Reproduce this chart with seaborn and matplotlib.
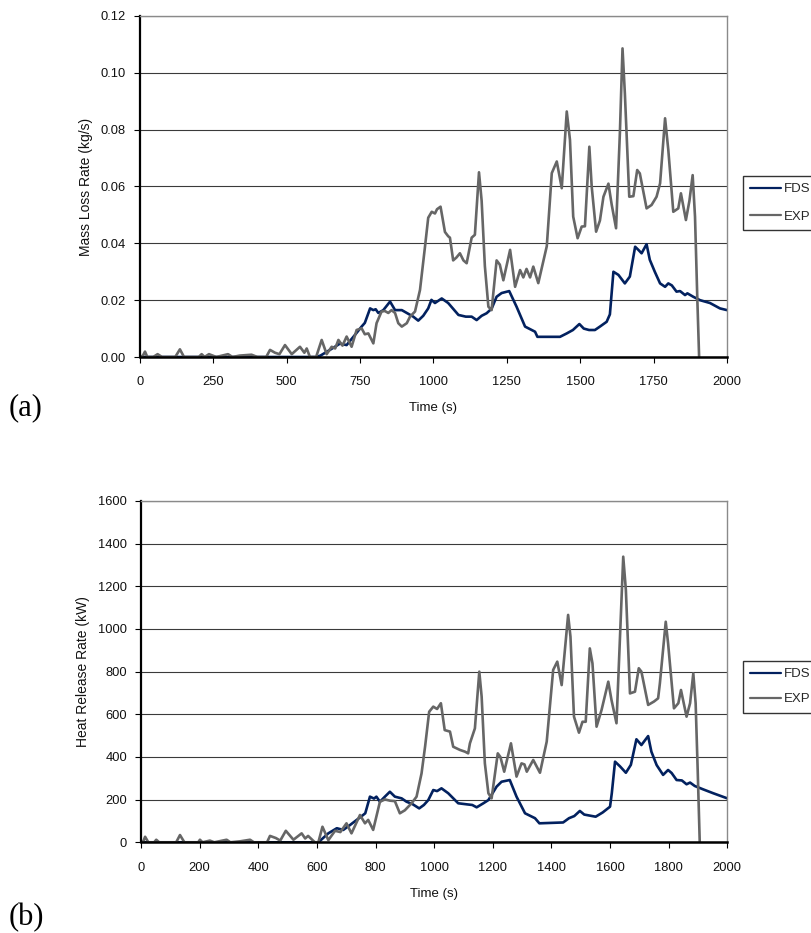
import matplotlib
matplotlib.use("Agg")
import matplotlib.pyplot as plt
import matplotlib.ticker as mticker
import seaborn as sns
import pandas as pd

# ---- (a) mass loss rate, kg/s ----
mlr_exp_time = [0, 10, 17, 25, 45, 60, 75, 120, 136, 150, 200, 210, 220, 235, 260, 300, 315,
                340, 380, 400, 430, 443, 460, 475, 494, 517, 545, 560, 568, 579, 600, 619,
                636, 653, 665, 676, 690, 704, 721, 738, 755, 766, 778, 795, 806, 823, 834,
                846, 857, 869, 880, 892, 909, 920, 937, 954, 971, 982, 994, 1005, 1012, 1024,
                1039, 1050, 1056, 1067, 1078, 1090, 1102, 1113, 1130, 1141, 1155, 1164, 1175,
                1187, 1198, 1215, 1226, 1238, 1261, 1278, 1295, 1306, 1317, 1329, 1340, 1357,
                1386, 1403, 1420, 1437, 1454, 1465, 1476, 1491, 1505, 1516, 1531, 1539, 1554,
                1567, 1579, 1596, 1607, 1622, 1635, 1644, 1652, 1667, 1681, 1694, 1703, 1726,
                1743, 1760, 1772, 1789, 1800, 1817, 1834, 1843, 1860, 1872, 1883, 1891, 1899,
                1905]
mlr_exp = [0, 0.0005, 0.0019, 0, 0, 0.001, 0, 0, 0.0027, 0, 0, 0.001, 0, 0.001, 0, 0.001, 0,
           0.0005, 0.0008, 0, 0, 0.0025, 0.0015, 0.001, 0.0042, 0.001, 0.0036, 0.0015, 0.003,
           0, 0, 0.006, 0.001, 0.0036, 0.003, 0.006, 0.004, 0.0072, 0.0036, 0.0095, 0.0101,
           0.008, 0.0083, 0.0048, 0.0119, 0.016, 0.0162, 0.0155, 0.0165, 0.0155, 0.0119,
           0.0107, 0.0119, 0.0142, 0.016, 0.0236, 0.0388, 0.049, 0.0511, 0.0505, 0.052,
           0.0529, 0.044, 0.0425, 0.042, 0.034, 0.035, 0.0365, 0.034, 0.033, 0.042, 0.043,
           0.065, 0.055, 0.032, 0.0177, 0.0165, 0.034, 0.0325, 0.027, 0.0377, 0.0247, 0.0306,
           0.028, 0.031, 0.028, 0.0318, 0.026, 0.039, 0.0647, 0.0688, 0.0594, 0.0864, 0.0764,
           0.0494, 0.0418, 0.0459, 0.046, 0.074, 0.060, 0.0441, 0.048, 0.0564, 0.061, 0.0537,
           0.0453, 0.0787, 0.1086, 0.0928, 0.0564, 0.0566, 0.0658, 0.0646, 0.0523, 0.0535,
           0.0564, 0.0611, 0.084, 0.0729, 0.0511, 0.0523, 0.0576, 0.0482, 0.055, 0.064,
           0.0494, 0.020, 0.0]

mlr_fds_time = [0, 600, 615, 647, 681, 704, 738, 755, 766, 784, 795, 803, 812, 829, 852, 869,
                892, 909, 931, 948, 965, 982, 993, 1005, 1028, 1050, 1085, 1110, 1130, 1147,
                1164, 1181, 1198, 1215, 1232, 1258, 1283, 1312, 1346, 1354, 1431, 1454, 1475,
                1497, 1512, 1530, 1550, 1567, 1590, 1601, 1613, 1630, 1652, 1669, 1687, 1698,
                1709, 1726, 1737, 1754, 1772, 1789, 1800, 1812, 1828, 1840, 1857, 1865, 1885,
                1908, 1942, 1976, 2000]
mlr_fds = [0, 0, 0.0005, 0.0025, 0.0047, 0.0042, 0.0085, 0.0107, 0.012, 0.0171, 0.0165,
           0.0168, 0.0155, 0.0165, 0.0195, 0.0165, 0.0165, 0.0155, 0.0142, 0.0128, 0.0145,
           0.0171, 0.0201, 0.019, 0.0206, 0.019, 0.0148, 0.0142, 0.0142, 0.013, 0.0145,
           0.0154, 0.017, 0.0212, 0.0225, 0.0232, 0.0177, 0.0107, 0.0089, 0.0071, 0.0071,
           0.0083, 0.0095, 0.0116, 0.010, 0.0095, 0.0095, 0.0107, 0.0124, 0.015, 0.030,
           0.0289, 0.0259, 0.0283, 0.0388, 0.0377, 0.0365, 0.0397, 0.0342, 0.030, 0.0259,
           0.0247, 0.0259, 0.0252, 0.023, 0.0232, 0.0218, 0.0224, 0.0212, 0.020, 0.019,
           0.0171, 0.0165]

# ---- (b) heat release rate, kW ----
hrr_exp_time = [0, 8, 14, 25, 45, 52, 62, 120, 133, 148, 195, 201, 210, 235, 250, 292, 305,
                340, 372, 385, 430, 440, 460, 475, 494, 520, 548, 560, 570, 593, 605, 619,
                639, 662, 680, 701, 718, 747, 764, 775, 792, 815, 832, 850, 866, 883, 900,
                923, 940, 957, 969, 983, 997, 1010, 1023, 1036, 1054, 1065, 1088, 1105, 1116,
                1122, 1139, 1154, 1162, 1173, 1185, 1196, 1217, 1226, 1239, 1262, 1281, 1298,
                1308, 1316, 1338, 1361, 1384, 1406, 1420, 1435, 1457, 1465, 1477, 1494, 1506,
                1517, 1531, 1540, 1554, 1571, 1594, 1605, 1622, 1634, 1645, 1654, 1668, 1685,
                1698, 1707, 1730, 1750, 1764, 1770, 1790, 1798, 1818, 1833, 1842, 1861, 1873,
                1884, 1892, 1899, 1906]
hrr_exp = [0, 5, 26, 0, 0, 12, 0, 0, 34, 0, 0, 12, 0, 8, 0, 12, 0, 5, 12, 0, 0, 30, 20, 8,
           54, 12, 42, 18, 30, 0, 0, 73, 10, 54, 48, 89, 42, 128, 89, 105, 58, 190, 201, 195,
           193, 136, 150, 183, 214, 323, 448, 612, 636, 625, 652, 526, 519, 448, 433, 425,
           417, 464, 534, 800, 683, 370, 230, 206, 417, 400, 331, 464, 308, 370, 365, 331,
           386, 326, 472, 808, 847, 737, 1066, 964, 589, 514, 565, 565, 909, 839, 542, 620,
           753, 667, 558, 964, 1339, 1183, 698, 706, 816, 800, 644, 660, 675, 745, 1034, 933,
           628, 652, 714, 589, 652, 792, 652, 339, 0]

hrr_fds_time = [0, 605, 639, 668, 690, 713, 753, 765, 781, 795, 803, 815, 832, 849, 866, 889,
                906, 925, 949, 965, 980, 997, 1010, 1025, 1048, 1082, 1111, 1130, 1145, 1168,
                1185, 1213, 1230, 1258, 1281, 1310, 1344, 1359, 1440, 1460, 1478, 1497, 1512,
                1551, 1575, 1600, 1606, 1617, 1634, 1654, 1671, 1690, 1707, 1730, 1741, 1759,
                1781, 1798, 1810, 1827, 1845, 1861, 1873, 1889, 1918, 1952, 2000]
hrr_fds = [0, 0, 42, 66, 58, 81, 123, 136, 214, 205, 214, 190, 214, 237, 214, 206, 190, 180,
           159, 175, 198, 245, 240, 253, 230, 183, 178, 175, 164, 183, 198, 261, 284, 292,
           214, 136, 113, 89, 93, 113, 123, 147, 130, 120, 140, 167, 230, 378, 356, 326, 363,
           483, 456, 498, 425, 362, 316, 339, 325, 292, 290, 272, 280, 264, 248, 230, 206]

series_names = ["FDS", "EXP"]
series_colors = {"FDS": "#02215f", "EXP": "#666666"}

sns.set_style("white")
plt.rcParams["font.family"] = ["Liberation Sans", "DejaVu Sans"]

fig = plt.figure(figsize=(8.12, 9.33), dpi=100)
ax_a = fig.add_axes([140 / 812, 1 - 357 / 933, 587 / 812, 341 / 933])
ax_b = fig.add_axes([141 / 812, 1 - 842.3 / 933, 586.3 / 812, 341.3 / 933])


def draw_panel(ax, fds_t, fds_v, exp_t, exp_v, ymax, ystep, xstep, ylabel, yfmt,
               legend_y, legend_h, tag, tag_y):
    fds = pd.DataFrame({"Time": fds_t, "Value": fds_v})
    exp = pd.DataFrame({"Time": exp_t, "Value": exp_v})
    sns.lineplot(data=fds, x="Time", y="Value", ax=ax, color=series_colors["FDS"],
                 linewidth=1.9, label="FDS", sort=False, estimator=None)
    sns.lineplot(data=exp, x="Time", y="Value", ax=ax, color=series_colors["EXP"],
                 linewidth=1.9, label="EXP", sort=False, estimator=None)

    ax.set_xlim(0, 2000)
    ax.set_ylim(0, ymax)
    ax.xaxis.set_major_locator(mticker.MultipleLocator(xstep))
    ax.yaxis.set_major_locator(mticker.MultipleLocator(ystep))
    ax.yaxis.set_major_formatter(mticker.FormatStrFormatter(yfmt))

    ax.grid(axis="y", color="#3a3a3a", linewidth=0.8)
    ax.grid(axis="x", visible=False)
    ax.set_axisbelow(True)

    for side in ("top", "right"):
        ax.spines[side].set_visible(True)
        ax.spines[side].set_color("#8a8a8a")
        ax.spines[side].set_linewidth(1.0)
    ax.spines["left"].set_color("black")
    ax.spines["left"].set_linewidth(1.6)
    ax.spines["bottom"].set_color("black")
    ax.spines["bottom"].set_linewidth(1.8)

    ax.tick_params(axis="x", direction="out", length=4, width=0.8, color="black",
                   labelsize=9.3, pad=10, bottom=True, labelcolor="#111111")
    ax.tick_params(axis="y", direction="out", length=4, width=0.8, color="black",
                   labelsize=9.3, pad=6, left=True, labelcolor="#111111")

    ax.set_xlabel("Time (s)", fontsize=9.5, labelpad=10, color="#111111")
    ax.set_ylabel(ylabel, fontsize=10, labelpad=6, color="#111111")

    leg = ax.legend(loc="upper left", bbox_to_anchor=(743 / 812, legend_y),
                    bbox_transform=fig.transFigure, frameon=True, fancybox=False,
                    shadow=False, fontsize=9.5, handlelength=2.3, handletextpad=0.25,
                    labelspacing=legend_h, borderpad=0.55, borderaxespad=0)
    leg.get_frame().set_edgecolor("black")
    leg.get_frame().set_linewidth(1.0)
    for line in leg.get_lines():
        line.set_linewidth(1.6)

    fig.text(9 / 812, tag_y, tag, fontsize=22, family=["Liberation Serif", "DejaVu Serif"],
             va="center", ha="left", color="black")


draw_panel(ax_a, mlr_fds_time, mlr_fds, mlr_exp_time, mlr_exp, 0.12, 0.02, 250,
           "Mass Loss Rate (kg/s)", "%.2f", 1 - 176 / 933, 1.15, "(a)", 1 - 408 / 933)
draw_panel(ax_b, hrr_fds_time, hrr_fds, hrr_exp_time, hrr_exp, 1600, 200, 200,
           "Heat Release Rate (kW)", "%d", 1 - 661 / 933, 0.95, "(b)", 1 - 918 / 933)

fig.savefig("out.png", dpi=100, facecolor="white")
